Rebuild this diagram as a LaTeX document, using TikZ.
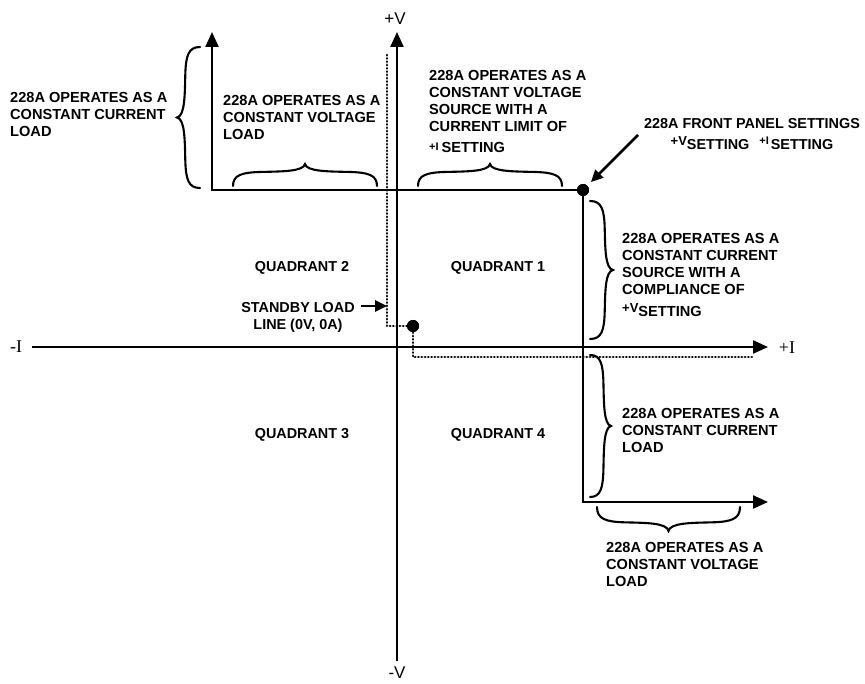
\documentclass[tikz,border=0pt]{standalone}
\usepackage{fontspec}
\setmainfont{Liberation Sans}
\newfontfamily\serifI{Liberation Serif}
\usetikzlibrary{arrows.meta}
\tikzset{
  mainline/.style={line width=2.3pt, line join=miter},
  tip/.style={-{Triangle[length=15pt,width=13pt]}},
  dotline/.style={line width=2.6pt, line cap=round, dash pattern=on 0.3pt off 3pt},
  blackdot/.style={circle, fill=black, inner sep=0pt, minimum size=12pt},
  lbl/.style={font=\fontsize{14.6}{17}\selectfont\bfseries, align=left, inner sep=0pt, anchor=north west},
  clbl/.style={font=\fontsize{14.4}{17}\selectfont\bfseries, align=center, inner sep=0pt},
  axlbl/.style={font=\fontsize{17}{17}\selectfont, inner sep=0pt},
  ilbl/.style={font=\fontsize{18}{18}\selectfont\serifI, inner sep=0pt},
  bracestyle/.style={line width=2.1pt, line cap=round},
  pointer/.style={line width=2.8pt, -{Triangle[length=12pt,width=11pt]}},
  pics/curly/.style 2 args={code={
    \draw[bracestyle] (0,0) .. controls (0,{0.5*#2}) and ({0.06*#1},{0.62*#2}) .. ({0.2*#1},{0.64*#2})
      .. controls ({0.34*#1},{0.66*#2}) and ({0.49*#1},{0.66*#2}) .. ({0.5*#1},#2)
      .. controls ({0.51*#1},{0.66*#2}) and ({0.66*#1},{0.66*#2}) .. ({0.8*#1},{0.64*#2})
      .. controls ({0.94*#1},{0.62*#2}) and (#1,{0.5*#2}) .. (#1,0);
  }}
}
\begin{document}
\begin{tikzpicture}[x=1pt,y=-1pt]
\useasboundingbox[fill=white] (0,0) rectangle (865,684);

% key points
\coordinate (vb) at (397,661);
\coordinate (vt) at (397,32);
\coordinate (il) at (32,347);
\coordinate (ir) at (768,347);
\coordinate (lt) at (212,32);
\coordinate (lc) at (212,190);
\coordinate (rc) at (583,502);
\coordinate (rt) at (768,502);
\coordinate (d1) at (387,55);
\coordinate (d2) at (387,326);
\coordinate (d3) at (413,357);
\coordinate (d4) at (752,357);
\coordinate (sa) at (361,306);
\coordinate (sb) at (387,306);
\coordinate (fa) at (638,135);

\node[blackdot] (fpdot) at (583,190) {};
\node[blackdot] (sbdot) at (413,326) {};

% axes
\draw[mainline, tip] (vb) -- (vt);
\draw[mainline, tip] (il) -- (ir);

% operating boundary
\draw[mainline, {Triangle[length=15pt,width=13pt]}-{Triangle[length=15pt,width=13pt]}]
  (lt) -- (lc) -- (fpdot.center) -- (rc) -- (rt);
\node[blackdot] at (fpdot) {};

% standby load line
\draw[dotline] (d1) -- (d2) -- (sbdot.center);
\draw[dotline] (sbdot.center) -- (d3) -- (d4);
\node[blackdot] at (sbdot) {};

% axis labels
\node[axlbl] (pv) at (395,19) {+V};
\node[axlbl] (mv) at (397,673) {-V};
\node[ilbl] (mi) at (16,347) {-I};
\node[ilbl] (pi) at (787,348) {+I};

% quadrant labels
\node[clbl] (q2) at (302,268) {QUADRANT 2};
\node[clbl] (q1) at (498,268) {QUADRANT 1};
\node[clbl] (q3) at (302,435) {QUADRANT 3};
\node[clbl] (q4) at (498,435) {QUADRANT 4};

% braces
\pic at (200,47) [rotate=-90] {curly={141}{23}};
\pic at (233,186) {curly={144}{-22}};
\pic at (418,186) {curly={144}{-22}};
\pic at (590,201) [rotate=-90] {curly={138}{-23}};
\pic at (590,355) [rotate=-90] {curly={142}{-21}};
\pic at (597,507) {curly={143}{24}};

% texts
\node[lbl] (tcc) at (10,92) {228A OPERATES AS A\\CONSTANT CURRENT\\LOAD};
\node[lbl] (tcv) at (223,95) {228A OPERATES AS A\\CONSTANT VOLTAGE\\LOAD};
\node[lbl] (tcvs) at (429,70) {228A OPERATES AS A\\CONSTANT VOLTAGE\\SOURCE WITH A\\CURRENT LIMIT OF\\[4pt]{\fontsize{11}{11}\selectfont\raisebox{2pt}{+I}}\hspace{3pt}SETTING};
\node[lbl] (tccs) at (622,233) {228A OPERATES AS A\\CONSTANT CURRENT\\SOURCE WITH A\\COMPLIANCE OF\\[1pt]{\fontsize{13}{13}\selectfont +V}\raisebox{-4pt}{SETTING}};
\node[lbl] (tccl) at (622,408) {228A OPERATES AS A\\CONSTANT CURRENT\\LOAD};
\node[lbl] (tcvl) at (606,542) {228A OPERATES AS A\\CONSTANT VOLTAGE\\LOAD};
\node[clbl, anchor=north] (tfp) at (752,118) {228A FRONT PANEL SETTINGS\\{\fontsize{13}{13}\selectfont +V}\raisebox{-4pt}{SETTING}\hspace{10pt}{\fontsize{11}{11}\selectfont\raisebox{1pt}{+I}}\hspace{2pt}\raisebox{-4pt}{SETTING}};
\node[clbl, anchor=north] (tsb) at (298,302) {STANDBY LOAD\\LINE (0V, 0A)};

% pointers
\draw[pointer] (sa) -- (sb);
\draw[pointer, shorten >=5pt] (fa) -- (fpdot);
\end{tikzpicture}
\end{document}
